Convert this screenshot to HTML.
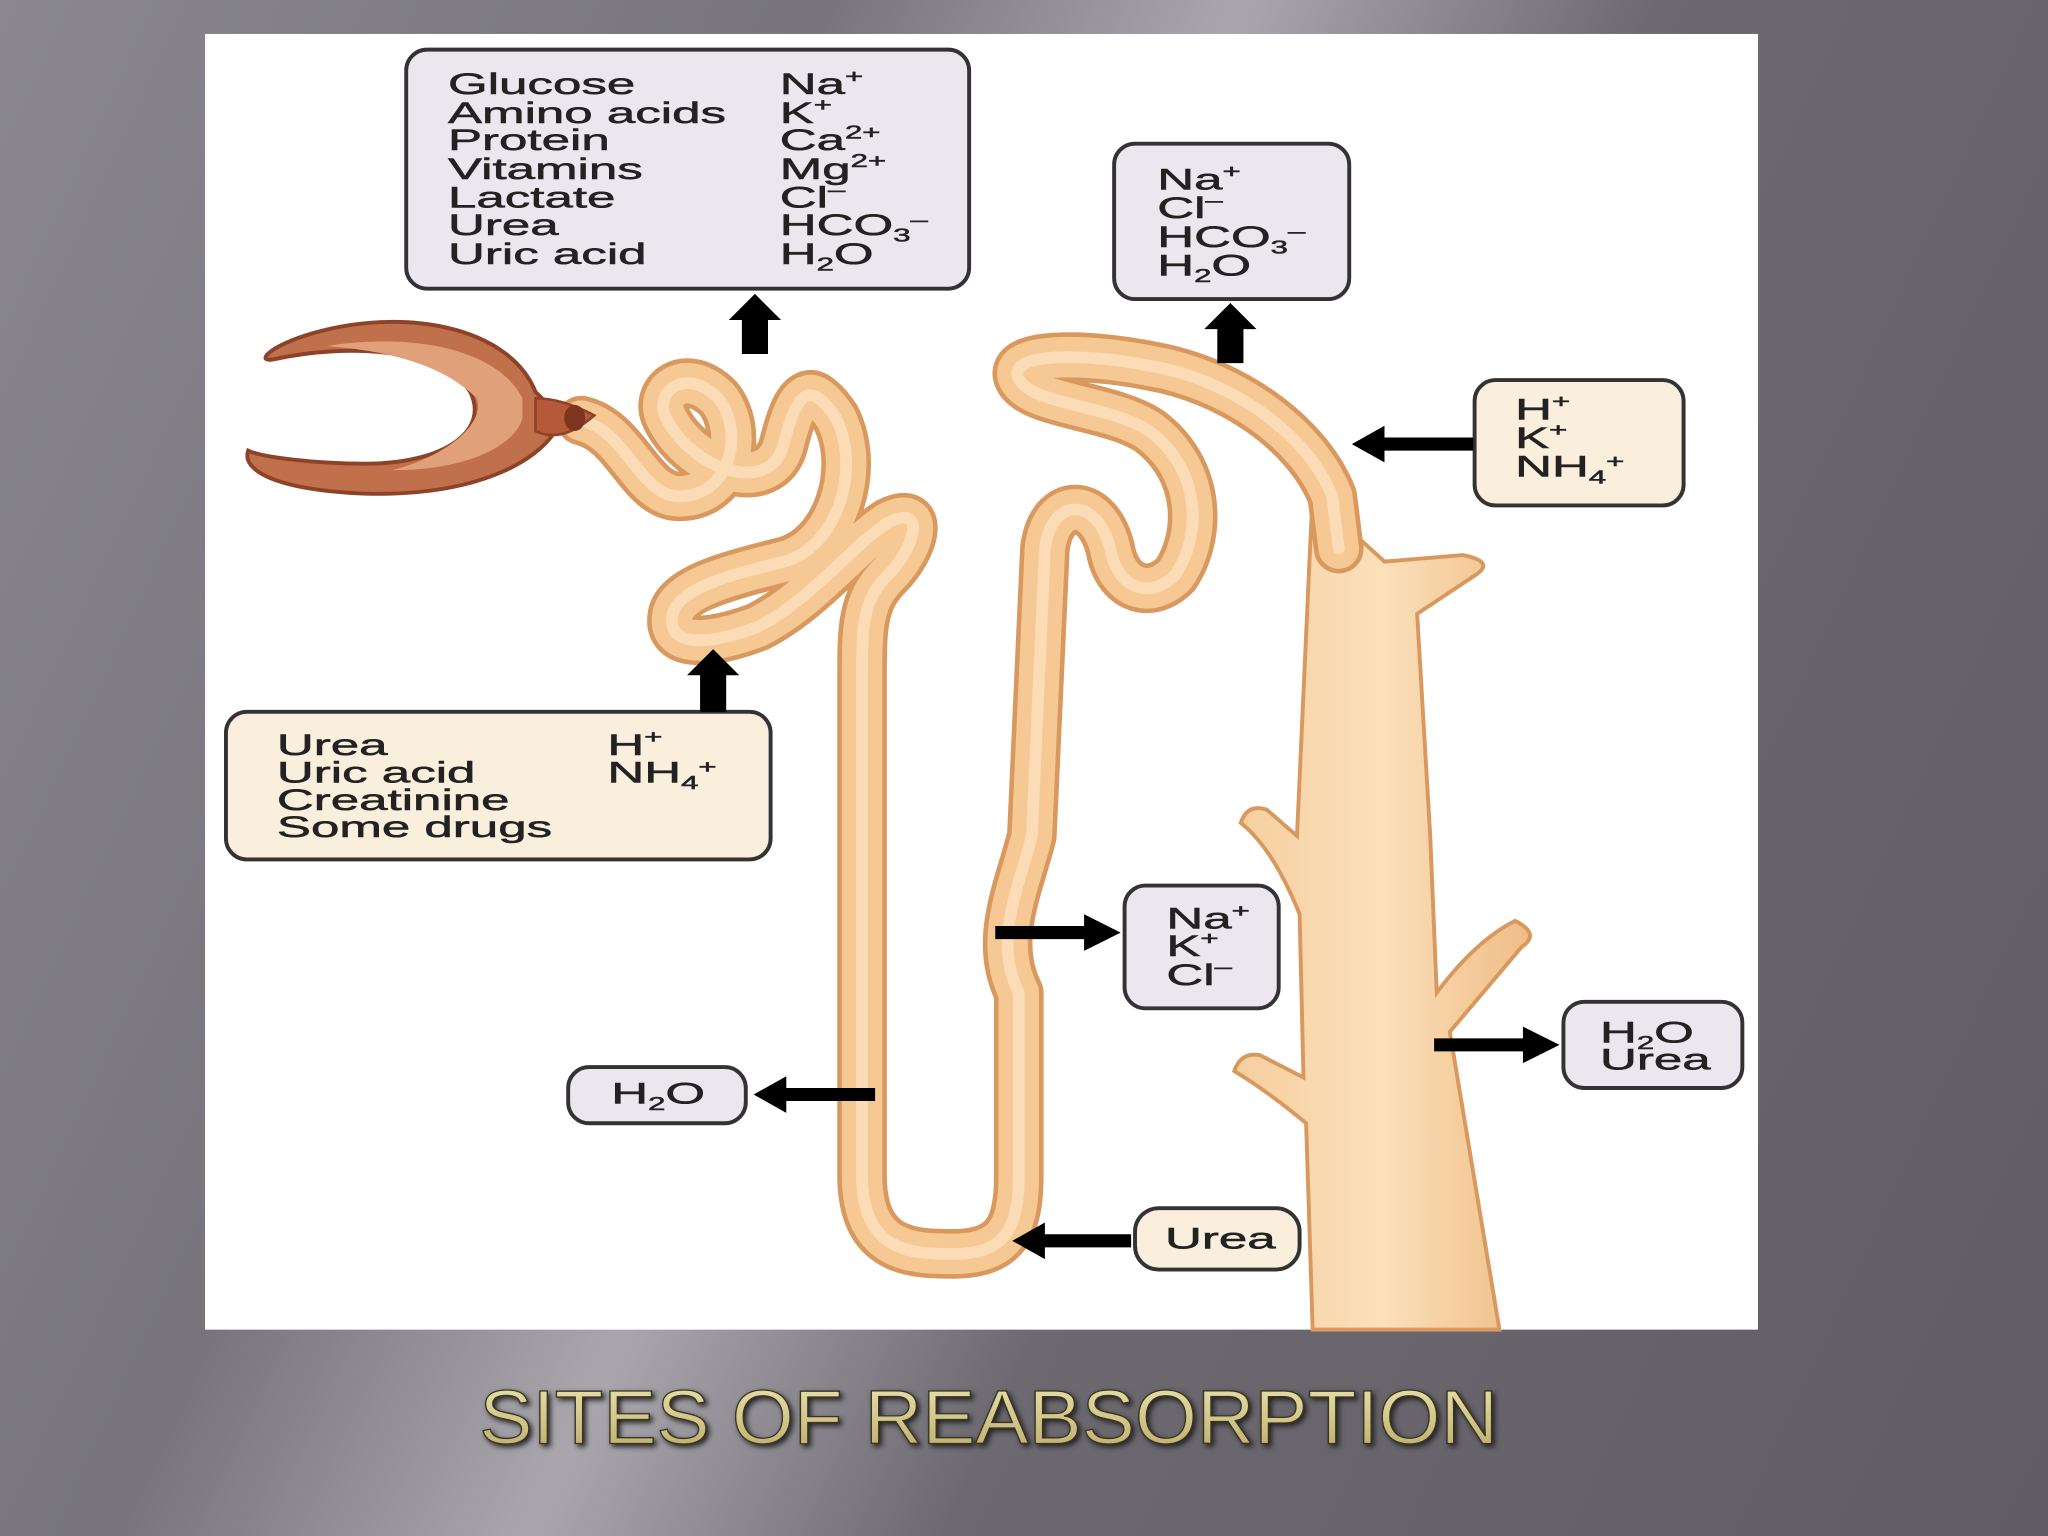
<!DOCTYPE html>
<html><head><meta charset="utf-8"><style>
html,body{margin:0;padding:0;width:2048px;height:1536px;overflow:hidden}
body{background:linear-gradient(115deg,#8a8790 0%,#77747c 30%,#a9a7ad 45%,#6c6970 60%,#5f5c63 100%)}
svg{display:block}
text{font-family:"Liberation Sans",Arial,sans-serif;fill:#222}
</style></head><body>
<svg width="2048" height="1536" viewBox="0 0 1568 1176" xmlns="http://www.w3.org/2000/svg">
<defs>
<linearGradient id="tg" x1="0" y1="0" x2="0" y2="1"><stop offset="0" stop-color="#ede6b0"/><stop offset="1" stop-color="#b9a866"/></linearGradient>
<linearGradient id="cd" x1="0" y1="0" x2="1" y2="0"><stop offset="0" stop-color="#f6cf9f"/><stop offset="0.5" stop-color="#fbe0bb"/><stop offset="1" stop-color="#efbd86"/></linearGradient>
<path id="tb" d="M445,322 C480,330 490,380 520,380 C560,380 570,330 550,305 C525,280 500,300 510,320 C530,360 590,380 600,340 C610,300 620,290 640,320 C660,360 640,420 600,430 C560,440 520,450 515,470 C510,495 540,495 580,480 C620,460 650,420 680,400 C710,385 700,420 680,440 C660,460 660,480 660,520 L660,900 C660,960 700,960 730,960 C770,960 780,940 780,900 L780,760 C760,720 780,680 790,640 L800,420 C805,380 840,380 850,420 C855,450 880,460 900,440 C920,410 920,360 880,330 C850,310 790,310 780,290 C770,270 830,270 880,280 C940,290 1000,330 1020,380 L1025,420"/>
</defs>
<rect x="157" y="26" width="1189" height="992" fill="#fff"/>

<g stroke="#d9985e" stroke-width="3" fill="url(#cd)">
<path d="M1060,430 L1120,425 Q1145,430 1130,440 L1085,470 L1095,640 L1100,760 Q1130,720 1160,705 Q1180,715 1165,725 L1110,790 L1148,1018 L1005,1018 L1000,860 Q970,835 945,820 Q950,805 965,808 L998,825 L995,700 Q975,650 950,630 Q955,615 970,620 L993,640 L1003,420 L1005,380 Z"/>
</g>
<g fill="none" stroke-linecap="round" stroke-linejoin="round">
<use href="#tb" stroke="#d9985e" stroke-width="38"/>
<use href="#tb" stroke="#f6c894" stroke-width="31"/>
<use href="#tb" stroke="#fbdcb6" stroke-width="9"/>
</g>
<g>
<path d="M410,300 C390,250 310,235 240,255 C205,265 195,278 210,275 C270,262 340,268 360,300 C375,330 340,355 280,355 C240,355 200,350 190,345 C185,360 210,375 280,378 C370,380 420,350 430,320 Z" fill="#c0704a" stroke="#8d4328" stroke-width="3"/>
<path d="M400,305 C380,265 310,255 250,265 C320,270 350,290 365,305 C372,325 340,350 300,360 C360,360 395,340 400,320 Z" fill="#e0a07a"/>
<path d="M410,305 Q430,305 455,318 Q430,340 410,330 Z" fill="#b55a38" stroke="#8d4328" stroke-width="2"/>
<ellipse cx="440" cy="320" rx="8" ry="10" fill="#7d3520"/>
</g>

<g stroke="#333" stroke-width="3">
<rect x="311" y="38" width="431" height="183" rx="16" fill="#ece6ee"/>
<rect x="853" y="110" width="180" height="119" rx="16" fill="#ece6ee"/>
<rect x="1129" y="291" width="160" height="96" rx="16" fill="#faeedd"/>
<rect x="173" y="545" width="417" height="113" rx="16" fill="#faeedd"/>
<rect x="861" y="678" width="118" height="94" rx="16" fill="#ece6ee"/>
<rect x="1197" y="767" width="137" height="66" rx="16" fill="#ece6ee"/>
<rect x="435" y="817" width="136" height="43" rx="16" fill="#ece6ee"/>
<rect x="869" y="925" width="126" height="47" rx="18" fill="#faeedd"/>
</g>
<g fill="#000">
<path d="M568,271 L568,245 L558,245 L578,225 L598,245 L588,245 L588,271 Z"/>
<path d="M932,278 L932,252 L922,252 L942,232 L962,252 L952,252 L952,278 Z"/>
<path d="M536,545 L536,517 L526,517 L546,497 L566,517 L556,517 L556,545 Z"/>
<path d="M1128,335 L1060,335 L1060,326 L1035,340 L1060,354 L1060,345 L1128,345 Z"/>
<path d="M762,709 L830,709 L830,700 L858,714 L830,728 L830,719 L762,719 Z"/>
<path d="M670,833 L602,833 L602,824 L577,838 L602,852 L602,843 L670,843 Z"/>
<path d="M866,945 L800,945 L800,936 L775,950 L800,964 L800,955 L866,955 Z"/>
<path d="M1098,795 L1166,795 L1166,786 L1194,800 L1166,814 L1166,805 L1098,805 Z"/>
</g>
<g font-size="23" stroke="#222" stroke-width="0.4">
<g transform="translate(343,0) scale(1.7,1)">
<text x="0" y="72">Glucose</text><text x="0" y="94">Amino acids</text><text x="0" y="115">Protein</text><text x="0" y="137">Vitamins</text><text x="0" y="159">Lactate</text><text x="0" y="180">Urea</text><text x="0" y="202">Uric acid</text>
</g>
<g transform="translate(597,0) scale(1.7,1)">
<text x="0" y="72">Na<tspan font-size="14" dy="-9">+</tspan></text>
<text x="0" y="94">K<tspan font-size="14" dy="-9">+</tspan></text>
<text x="0" y="115">Ca<tspan font-size="14" dy="-9">2+</tspan></text>
<text x="0" y="137">Mg<tspan font-size="14" dy="-9">2+</tspan></text>
<text x="0" y="159">Cl<tspan font-size="14" dy="-9">–</tspan></text>
<text x="0" y="180">HCO<tspan font-size="14" dy="5">3</tspan><tspan font-size="14" dy="-12">–</tspan></text>
<text x="0" y="202">H<tspan font-size="14" dy="5">2</tspan><tspan dy="-5">O</tspan></text>
</g>
<g transform="translate(886,0) scale(1.7,1)">
<text x="0" y="145">Na<tspan font-size="14" dy="-9">+</tspan></text>
<text x="0" y="167">Cl<tspan font-size="14" dy="-9">–</tspan></text>
<text x="0" y="189">HCO<tspan font-size="14" dy="5">3</tspan><tspan font-size="14" dy="-12">–</tspan></text>
<text x="0" y="211">H<tspan font-size="14" dy="5">2</tspan><tspan dy="-5">O</tspan></text>
</g>
<g transform="translate(1160,0) scale(1.7,1)">
<text x="0" y="321">H<tspan font-size="14" dy="-9">+</tspan></text>
<text x="0" y="343">K<tspan font-size="14" dy="-9">+</tspan></text>
<text x="0" y="365">NH<tspan font-size="14" dy="5">4</tspan><tspan font-size="14" dy="-12">+</tspan></text>
</g>
<g transform="translate(212,0) scale(1.7,1)">
<text x="0" y="578">Urea</text><text x="0" y="599">Uric acid</text><text x="0" y="620">Creatinine</text><text x="0" y="641">Some drugs</text>
</g>
<g transform="translate(465,0) scale(1.7,1)">
<text x="0" y="578">H<tspan font-size="14" dy="-9">+</tspan></text>
<text x="0" y="599">NH<tspan font-size="14" dy="5">4</tspan><tspan font-size="14" dy="-12">+</tspan></text>
</g>
<g transform="translate(893,0) scale(1.7,1)">
<text x="0" y="711">Na<tspan font-size="14" dy="-9">+</tspan></text>
<text x="0" y="732">K<tspan font-size="14" dy="-9">+</tspan></text>
<text x="0" y="754">Cl<tspan font-size="14" dy="-9">–</tspan></text>
</g>
<g transform="translate(1225,0) scale(1.7,1)">
<text x="0" y="798">H<tspan font-size="14" dy="5">2</tspan><tspan dy="-5">O</tspan></text>
<text x="0" y="819">Urea</text>
</g>
<g transform="translate(468,0) scale(1.7,1)">
<text x="0" y="845">H<tspan font-size="14" dy="5">2</tspan><tspan dy="-5">O</tspan></text>
</g>
<g transform="translate(892,0) scale(1.7,1)">
<text x="0" y="956">Urea</text>
</g>
</g>
<text x="367" y="1105" textLength="780" lengthAdjust="spacingAndGlyphs" font-size="58" style="fill:url(#tg)" stroke="#3a3520" stroke-width="1" filter="drop-shadow(2px 2px 2px #222)">SITES OF REABSORPTION</text>
</svg>
</body></html>
